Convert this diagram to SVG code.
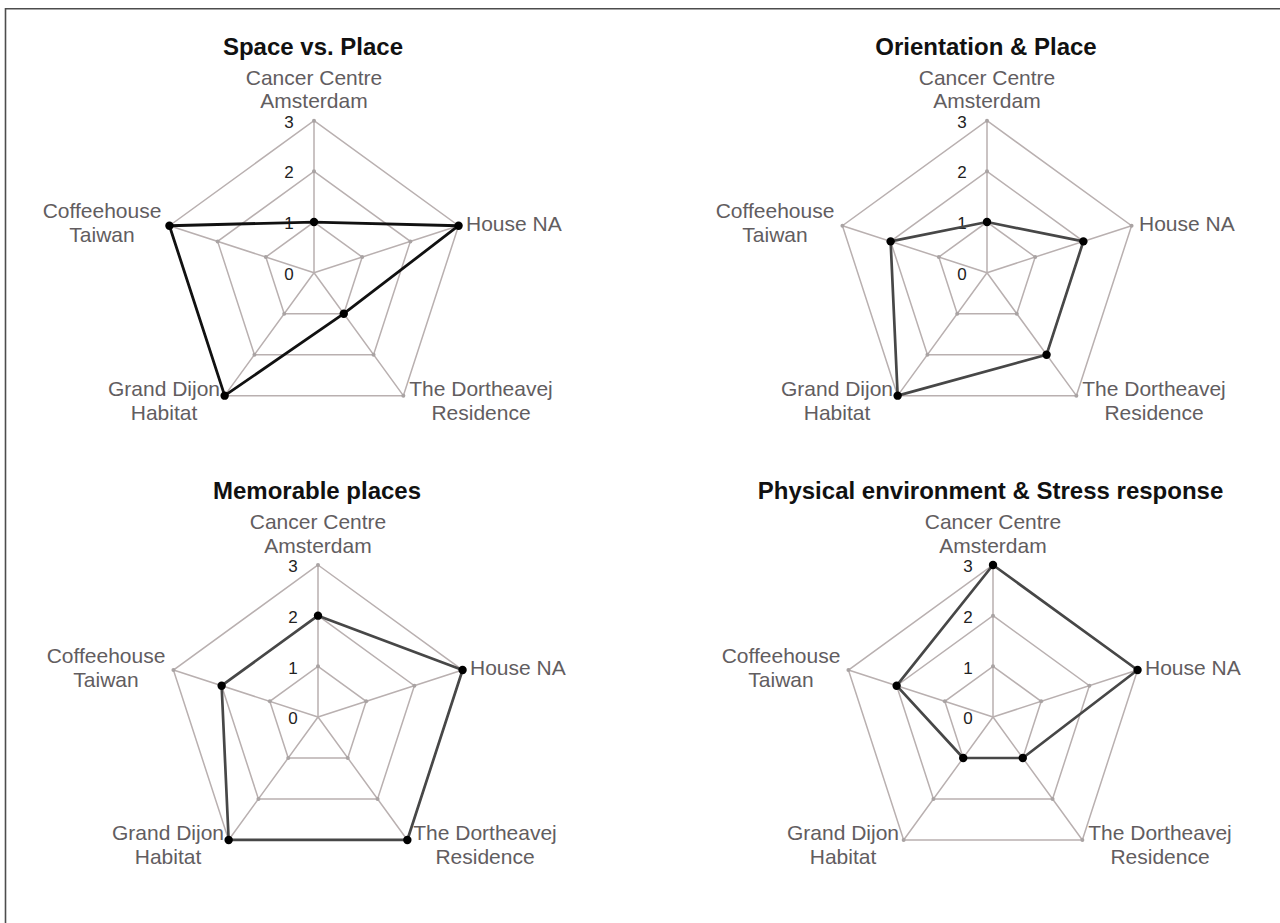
<svg xmlns="http://www.w3.org/2000/svg" xmlns:xlink="http://www.w3.org/1999/xlink" width="1280" height="923" viewBox="0 0 1280 923">
<style>
.title{font-family:"Liberation Sans",Arial,sans-serif;font-weight:bold;font-size:24px;fill:#111;text-anchor:middle}
.ax{font-family:"Liberation Sans",Arial,sans-serif;font-size:21px;fill:#625d5f}
.mid{text-anchor:middle}
.tick{font-family:"Liberation Sans",Arial,sans-serif;font-size:17px;fill:#222;text-anchor:middle}
.grid{fill:none;stroke:#b9b0b0;stroke-width:1.5}
.gdot{fill:#a9a3a3}
.data{fill:none;stroke:#474747;stroke-width:2.7;stroke-linejoin:round}
.data1{fill:none;stroke:#111;stroke-width:2.8;stroke-linejoin:round}
.pt{fill:#000}
</style>
<defs>
<g id="grid">
<polygon class="grid" points="0,-50.67 48.19,-15.66 29.78,40.99 -29.78,40.99 -48.19,-15.66"/>
<polygon class="grid" points="0,-101.33 96.37,-31.31 59.56,81.98 -59.56,81.98 -96.37,-31.31"/>
<polygon class="grid" points="0,-152 144.57,-46.97 89.35,122.97 -89.35,122.97 -144.57,-46.97"/>
<path class="grid" d="M0,0L0,-152M0,0L144.57,-46.97M0,0L89.35,122.97M0,0L-89.35,122.97M0,0L-144.57,-46.97"/>
<g class="gdot">
<circle cx="0" cy="-50.67" r="2"/><circle cx="48.19" cy="-15.66" r="2"/><circle cx="29.78" cy="40.99" r="2"/><circle cx="-29.78" cy="40.99" r="2"/><circle cx="-48.19" cy="-15.66" r="2"/>
<circle cx="0" cy="-101.33" r="2"/><circle cx="96.37" cy="-31.31" r="2"/><circle cx="59.56" cy="81.98" r="2"/><circle cx="-59.56" cy="81.98" r="2"/><circle cx="-96.37" cy="-31.31" r="2"/>
<circle cx="0" cy="-152" r="2"/><circle cx="144.57" cy="-46.97" r="2"/><circle cx="89.35" cy="122.97" r="2"/><circle cx="-89.35" cy="122.97" r="2"/><circle cx="-144.57" cy="-46.97" r="2"/>
</g>
</g>
<g id="labels">
<text class="tick" x="-25" y="-145">3</text>
<text class="tick" x="-25" y="-94.5">2</text>
<text class="tick" x="-25" y="-43.5">1</text>
<text class="tick" x="-25" y="7">0</text>
<text class="ax mid" x="0" y="-187.7">Cancer Centre</text>
<text class="ax mid" x="0" y="-164.4">Amsterdam</text>
<text class="ax mid" x="-212" y="-54.4">Coffeehouse</text>
<text class="ax mid" x="-212" y="-30.5">Taiwan</text>
<text class="ax" x="152" y="-42">House NA</text>
<text class="ax mid" x="-150" y="123.3">Grand Dijon</text>
<text class="ax mid" x="-150" y="147.3">Habitat</text>
<text class="ax mid" x="167" y="123.3">The Dortheavej</text>
<text class="ax mid" x="167" y="147.3">Residence</text>
</g>
</defs>
<rect x="0" y="0" width="1280" height="923" fill="#fff"/>
<path d="M5.5,923V8.7H1280" fill="none" stroke="#4d4d4d" stroke-width="1.6"/>

<g id="chart-space-vs-place" transform="translate(314,272.7)">
<use xlink:href="#grid" href="#grid"/>
<use xlink:href="#labels" href="#labels"/>
<text class="title" x="-1" y="-217.7">Space vs. Place</text>
<polygon class="data1" points="0,-50.67 144.57,-46.97 29.78,40.99 -89.35,122.97 -144.57,-46.97"/>
<g class="pt"><circle cx="0" cy="-50.67" r="4.2"/><circle cx="144.57" cy="-46.97" r="4.2"/><circle cx="29.78" cy="40.99" r="4.2"/><circle cx="-89.35" cy="122.97" r="4.2"/><circle cx="-144.57" cy="-46.97" r="4.2"/></g>
</g>

<g id="chart-orientation-place" transform="translate(987,272.7)">
<use xlink:href="#grid" href="#grid"/>
<use xlink:href="#labels" href="#labels"/>
<text class="title" x="-1" y="-217.7">Orientation &amp; Place</text>
<polygon class="data" points="0,-50.67 96.37,-31.31 59.56,81.98 -89.35,122.97 -96.37,-31.31"/>
<g class="pt"><circle cx="0" cy="-50.67" r="4.2"/><circle cx="96.37" cy="-31.31" r="4.2"/><circle cx="59.56" cy="81.98" r="4.2"/><circle cx="-89.35" cy="122.97" r="4.2"/><circle cx="-96.37" cy="-31.31" r="4.2"/></g>
</g>

<g id="chart-memorable-places" transform="translate(318,717)">
<use xlink:href="#grid" href="#grid"/>
<use xlink:href="#labels" href="#labels"/>
<text class="title" x="-1" y="-218">Memorable places</text>
<polygon class="data" points="0,-101.33 144.57,-46.97 89.35,122.97 -89.35,122.97 -96.37,-31.31"/>
<g class="pt"><circle cx="0" cy="-101.33" r="4.2"/><circle cx="144.57" cy="-46.97" r="4.2"/><circle cx="89.35" cy="122.97" r="4.2"/><circle cx="-89.35" cy="122.97" r="4.2"/><circle cx="-96.37" cy="-31.31" r="4.2"/></g>
</g>

<g id="chart-physical-environment" transform="translate(993,717)">
<use xlink:href="#grid" href="#grid"/>
<use xlink:href="#labels" href="#labels"/>
<text class="title" x="-2.5" y="-218">Physical environment &amp; Stress response</text>
<polygon class="data" points="0,-152 144.57,-46.97 29.78,40.99 -29.78,40.99 -96.37,-31.31"/>
<g class="pt"><circle cx="0" cy="-152" r="4.2"/><circle cx="144.57" cy="-46.97" r="4.2"/><circle cx="29.78" cy="40.99" r="4.2"/><circle cx="-29.78" cy="40.99" r="4.2"/><circle cx="-96.37" cy="-31.31" r="4.2"/></g>
</g>
</svg>
